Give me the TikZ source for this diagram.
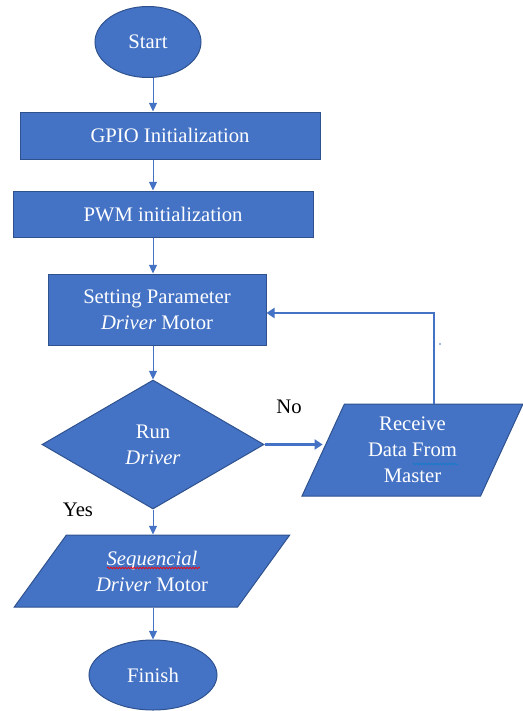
\documentclass[tikz,border=0pt]{standalone}
\usepackage{fontspec}
\setmainfont{Liberation Serif}
\usetikzlibrary{shapes.geometric,arrows.meta,decorations.pathmorphing}
\definecolor{boxblue}{RGB}{68,114,196}
\definecolor{edgeblue}{RGB}{47,82,143}

\begin{document}
\begin{tikzpicture}[x=0.75pt,y=0.75pt,yscale=-1,xscale=1,
	block/.style={draw=edgeblue,fill=boxblue,line width=0.75pt,text=white,align=center,inner sep=2pt,font=\fontsize{15.5}{19.5}\selectfont},
	terminal/.style={block,ellipse},
	process/.style={block,rectangle},
	decision/.style={block,diamond},
	inout/.style={block,trapezium,trapezium stretches=true},
	flow/.style={draw=boxblue,line width=0.75pt,-{Triangle[length=6.5pt,width=6pt]}},
	loopflow/.style={flow,line width=1.6pt,-{Triangle[length=6pt,width=7.5pt]}},
	answer/.style={text=black,font=\fontsize{15.5}{19.5}\selectfont},
	squiggle/.style={line width=0.5pt,decorate,decoration={snake,amplitude=0.6pt,segment length=2.2pt}}]
	\useasboundingbox (0,0) rectangle (523,711);
	
	% Terminal
	\node[terminal,minimum width=79.5pt,minimum height=53.25pt] (start) at (148,42) {Start};
	% Process
	\node[process,minimum width=225pt,minimum height=35.25pt] (gpio) at (170,135.5) {GPIO Initialization};
	% Process
	\node[process,minimum width=225pt,minimum height=34.5pt] (pwm) at (163,214) {PWM initialization};
	% Process
	\node[process,minimum width=163.5pt,minimum height=53.25pt] (setp) at (157,309.5) {Setting Parameter\\\textit{Driver} Motor};
	% Decision
	\node[decision,minimum width=166.5pt,minimum height=96.75pt] (run) at (153,444.5) {Run\\\textit{Driver}};
	% Input
	\node[inout,trapezium left angle=67.6,trapezium right angle=112.4,minimum width=165.75pt,minimum height=69pt] (recv) at (412.5,450) {Receive\\Data From\\Master};
	% Output
	\node[inout,trapezium left angle=52.1,trapezium right angle=127.9,minimum width=207pt,minimum height=54pt] (seq) at (152,571) {\textit{Sequencial}\\\textit{Driver} Motor};
	% Terminal
	\node[terminal,minimum width=96pt,minimum height=52.5pt] (finish) at (153,675) {Finish};
	
	% Text Node
	\node[answer] (no) at (289,407) {No};
	% Text Node
	\node[answer] (yes) at (78,510) {Yes};
	
	% Connection
	\draw[flow] (start.south -| run) -- (gpio.north -| run);
	% Connection
	\draw[flow] (gpio.south -| run) -- (pwm.north -| run);
	% Connection
	\draw[flow] (pwm.south -| run) -- (setp.north -| run);
	% Connection
	\draw[flow] (setp.south -| run) -- (run.north);
	% Connection
	\draw[loopflow] (run.east) -- (run.east -| recv.west);
	% Connection
	\draw[loopflow] (recv.top side) |- ([yshift=2.6pt]setp.east);
	% Connection
	\draw[flow] (run.south) -- (run.south |- seq.north);
	% Connection
	\draw[flow] (seq.south -| run) -- (finish.north -| run);
	
	% spelling marks
	\draw[squiggle,red] (107,568) -- (200,568);
	\draw[squiggle,cyan!60!blue] (413,464) -- (458,464);
	\fill[boxblue] (440,344) circle (0.6pt);
	
\end{tikzpicture}
\end{document}
